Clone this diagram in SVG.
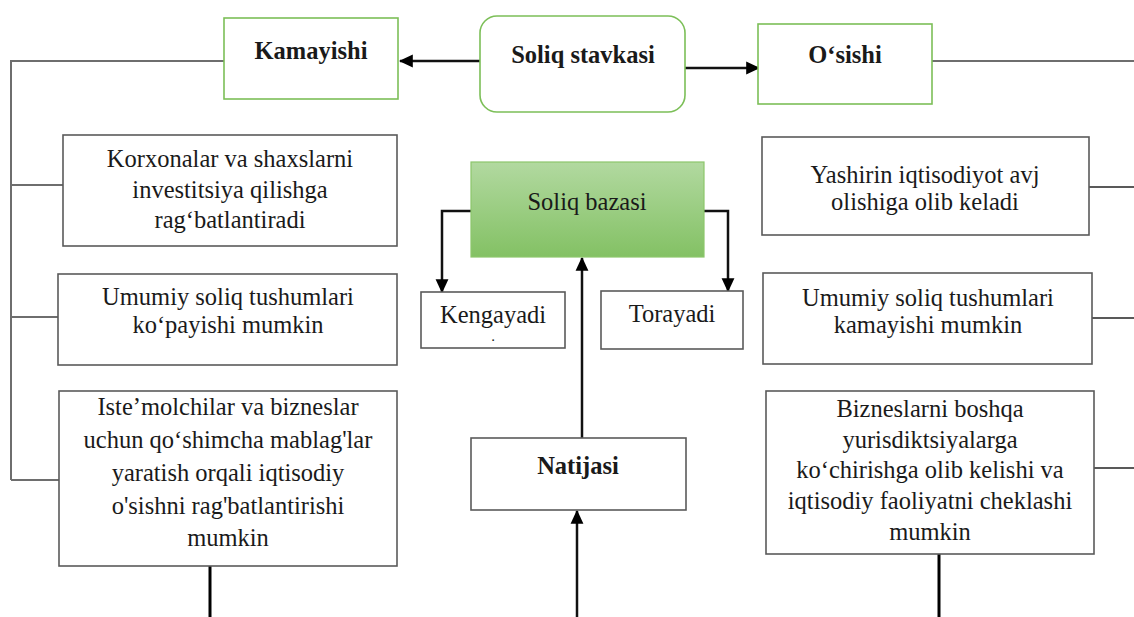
<svg xmlns="http://www.w3.org/2000/svg" width="1134" height="617" viewBox="0 0 1134 617">
<style>
  .t { font-family: "Liberation Serif", "Times New Roman", serif; font-size: 24.5px; fill: #1a1a1a; text-anchor: middle; }
  .b { font-weight: bold; }
  .box { fill: #ffffff; stroke: #5a5a5a; stroke-width: 1.6; }
  .gbox { fill: #ffffff; stroke: #7cbf58; stroke-width: 1.6; }
  .gray { fill: none; stroke: #6e6e6e; stroke-width: 2; }
  .thin { fill: none; stroke: #222; stroke-width: 1.5; }
  .arr { fill: none; stroke: #111; stroke-width: 2.5; }
  .thick { fill: none; stroke: #000; stroke-width: 3; }
</style>
<defs>
  <marker id="ah" markerUnits="userSpaceOnUse" markerWidth="14" markerHeight="14" viewBox="0 0 12 12" refX="11" refY="6" orient="auto">
    <path d="M0,0.5 L12,6 L0,11.5 Z" fill="#000"/>
  </marker>
  <linearGradient id="green" x1="0" y1="0" x2="0" y2="1">
    <stop offset="0" stop-color="#b2d9a0"/>
    <stop offset="1" stop-color="#83c164"/>
  </linearGradient>
</defs>

<g id="connectors">
  <path class="gray" d="M224,61 H11 V480"/>
  <path class="gray" d="M11,185 H63"/>
  <path class="gray" d="M11,317 H58"/>
  <path class="gray" d="M11,480 H59"/>
  <path class="gray" d="M932,61 H1134"/>
  <path class="thin" d="M1088,187 H1134"/>
  <path class="thin" d="M1092,318 H1134"/>
  <path class="thin" d="M1092,468 H1134"/>
  <path class="arr" d="M480,61 H400" marker-end="url(#ah)"/>
  <path class="arr" d="M685,68 H759" marker-end="url(#ah)"/>
  <path class="arr" d="M471,211 H442 V292" marker-end="url(#ah)"/>
  <path class="arr" d="M704,211 H728 V291" marker-end="url(#ah)"/>
  <path class="arr" d="M582,438 V258" marker-end="url(#ah)"/>
  <path class="arr" d="M577,617 V511" marker-end="url(#ah)"/>
  <path class="thick" d="M210,566 V617"/>
  <path class="thick" d="M939,554 V617"/>
</g>

<g id="kamayishi">
  <rect class="gbox" x="224" y="18" width="174" height="81"/>
  <text class="t b" x="311" y="59">Kamayishi</text>
</g>

<g id="soliq-stavkasi">
  <rect class="gbox" x="480" y="16" width="205" height="96" rx="17"/>
  <text class="t b" x="583" y="63">Soliq stavkasi</text>
</g>

<g id="osishi">
  <rect class="gbox" x="758" y="24" width="174" height="80"/>
  <text class="t b" x="845" y="63">O‘sishi</text>
</g>

<g id="left1">
  <rect class="box" x="63" y="135" width="334" height="111"/>
  <text class="t" x="230" y="167">Korxonalar va shaxslarni</text>
  <text class="t" x="230" y="198">investitsiya qilishga</text>
  <text class="t" x="230" y="228">rag‘batlantiradi</text>
</g>

<g id="left2">
  <rect class="box" x="58" y="274" width="339" height="91"/>
  <text class="t" x="228" y="305">Umumiy soliq tushumlari</text>
  <text class="t" x="228" y="333">ko‘payishi mumkin</text>
</g>

<g id="left3">
  <rect class="box" x="59" y="391" width="338" height="175"/>
  <text class="t" x="228" y="415">Iste’molchilar va bizneslar</text>
  <text class="t" x="228" y="448">uchun qo‘shimcha mablag'lar</text>
  <text class="t" x="228" y="481">yaratish orqali iqtisodiy</text>
  <text class="t" x="228" y="514">o'sishni rag'batlantirishi</text>
  <text class="t" x="228" y="546">mumkin</text>
</g>

<g id="soliq-bazasi">
  <rect x="471" y="162" width="233" height="95" fill="url(#green)" stroke="#8cc66c" stroke-width="1.2"/>
  <text class="t" x="587" y="210">Soliq bazasi</text>
</g>

<g id="kengayadi">
  <rect class="box" x="421" y="292" width="144" height="56"/>
  <text class="t" x="493" y="323">Kengayadi</text>
  <text class="t" x="493" y="341" style="font-size:11px;font-weight:bold">.</text>
</g>

<g id="torayadi">
  <rect class="box" x="601" y="291" width="142" height="58"/>
  <text class="t" x="672" y="322">Torayadi</text>
</g>

<g id="natijasi">
  <rect class="box" x="471" y="438" width="215" height="72"/>
  <text class="t b" x="578" y="474">Natijasi</text>
</g>

<g id="right1">
  <rect class="box" x="762" y="137" width="327" height="98"/>
  <text class="t" x="925" y="183">Yashirin iqtisodiyot avj</text>
  <text class="t" x="925" y="210">olishiga olib keladi</text>
</g>

<g id="right2">
  <rect class="box" x="763" y="273" width="329" height="91"/>
  <text class="t" x="928" y="306">Umumiy soliq tushumlari</text>
  <text class="t" x="928" y="333">kamayishi mumkin</text>
</g>

<g id="right3">
  <rect class="box" x="766" y="391" width="328" height="163"/>
  <text class="t" x="930" y="417">Bizneslarni boshqa</text>
  <text class="t" x="930" y="448">yurisdiktsiyalarga</text>
  <text class="t" x="930" y="478">ko‘chirishga olib kelishi va</text>
  <text class="t" x="930" y="509">iqtisodiy faoliyatni cheklashi</text>
  <text class="t" x="930" y="540">mumkin</text>
</g>
</svg>
